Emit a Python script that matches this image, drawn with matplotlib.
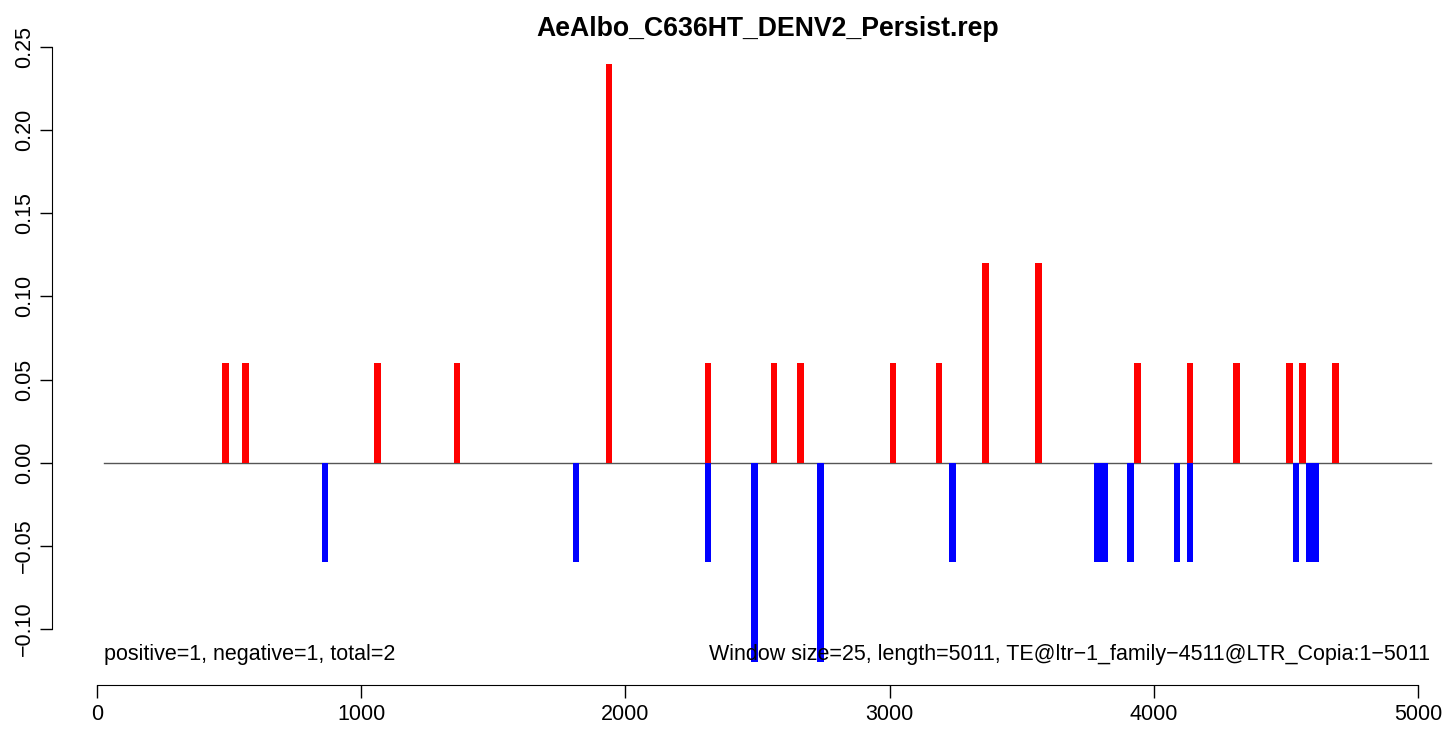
import matplotlib
matplotlib.use("Agg")
import matplotlib.pyplot as plt

plt.rcParams["font.family"] = ["Liberation Sans", "DejaVu Sans"]

title = "AeAlbo_C636HT_DENV2_Persist.rep"
window = 25

# window start positions and signal values
pos_start = [475, 550, 1050, 1350, 1925, 2300, 2550, 2650, 3000, 3175,
             3350, 3550, 3925, 4125, 4300, 4500, 4550, 4675]
pos_value = [0.06, 0.06, 0.06, 0.06, 0.24, 0.06, 0.06, 0.06, 0.06, 0.06,
             0.12, 0.12, 0.06, 0.06, 0.06, 0.06, 0.06, 0.06]

neg_start = [850, 1800, 2300, 2475, 2725, 3225, 3775, 3800, 3900, 4075,
             4125, 4525, 4575, 4600]
neg_value = [-0.06, -0.06, -0.06, -0.12, -0.12, -0.06, -0.06, -0.06, -0.06, -0.06,
             -0.06, -0.06, -0.06, -0.06]

x_ticks = [0, 1000, 2000, 3000, 4000, 5000]
y_ticks = [-0.10, -0.05, 0.00, 0.05, 0.10, 0.15, 0.20, 0.25]

left_note = "positive=1, negative=1, total=2"
right_note = "Window size=25, length=5011, TE@ltr\u22121_family\u22124511@LTR_Copia:1\u22125011"

fig = plt.figure(figsize=(14.46, 7.36), dpi=100)
ax = fig.add_axes([52 / 1446, 51 / 736, 1388 / 1446, 645 / 736])

ax.plot([25, 5050], [0, 0], color="#555555", lw=1, zorder=1)
ax.bar(pos_start, pos_value, width=window, align="edge", color="red", lw=0, zorder=2)
ax.bar(neg_start, neg_value, width=window, align="edge", color="blue", lw=0, zorder=2)

ax.set_xlim(-170.3, 5083)
ax.set_ylim(-0.1337, 0.2542)

ax.set_xticks(x_ticks)
ax.set_xticklabels([str(t) for t in x_ticks])
ax.set_yticks(y_ticks)
ax.set_yticklabels([f"{t:.2f}".replace("-", "\u2212") for t in y_ticks],
                   rotation=90, va="center")

for side in ["top", "right"]:
    ax.spines[side].set_visible(False)
ax.spines["bottom"].set_bounds(0, 5000)
ax.spines["left"].set_bounds(-0.10, 0.25)
ax.tick_params(direction="out", length=9, width=1, labelsize=15.5)
ax.tick_params(axis="x", pad=5)
ax.tick_params(axis="y", pad=3)

ax.text(25, -0.1156, left_note, ha="left", va="center", fontsize=15.5)
ax.text(5045, -0.1156, right_note, ha="right", va="center", fontsize=15.5)

fig.text(768 / 1446, 1 - 29 / 736, title, ha="center", va="center",
         fontsize=19.2, fontweight="bold")

fig.savefig("out.png", dpi=100)
